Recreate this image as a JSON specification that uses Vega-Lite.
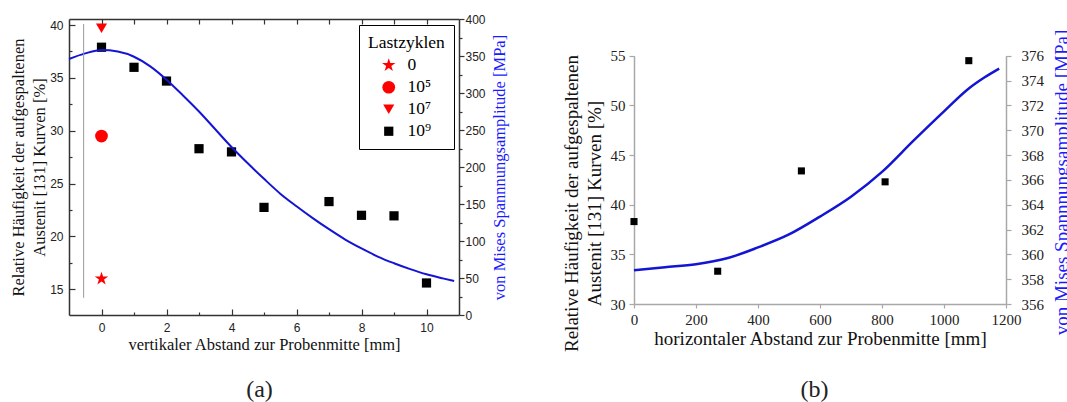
{
  "$schema": "https://vega.github.io/schema/vega-lite/v6.json",
  "background": "white",
  "autosize": {"type": "none"},
  "width": 937,
  "height": 296,
  "padding": {"left": 69, "top": 19, "right": 61, "bottom": 87},
  "config": {
    "view": {"stroke": null},
    "axis": {"grid": false, "labelFlush": false, "labelOverlap": false, "titleFontWeight": "normal"}
  },
  "resolve": {
    "scale": {"x": "independent", "y": "independent"},
    "axis": {"x": "independent", "y": "independent"}
  },
  "layer": [
    {
      "data": {"values": [
        {"abstand": 0, "anteil": 16.0, "zyklen": "0"},
        {"abstand": 0, "anteil": 29.5, "zyklen": "10⁵"},
        {"abstand": 0, "anteil": 39.7, "zyklen": "10⁷"},
        {"abstand": 0, "anteil": 37.9, "zyklen": "10⁹"},
        {"abstand": 1, "anteil": 36.0, "zyklen": "10⁹"},
        {"abstand": 2, "anteil": 34.7, "zyklen": "10⁹"},
        {"abstand": 3, "anteil": 28.3, "zyklen": "10⁹"},
        {"abstand": 4, "anteil": 28.0, "zyklen": "10⁹"},
        {"abstand": 5, "anteil": 22.75, "zyklen": "10⁹"},
        {"abstand": 7, "anteil": 23.3, "zyklen": "10⁹"},
        {"abstand": 8, "anteil": 22.0, "zyklen": "10⁹"},
        {"abstand": 9, "anteil": 21.95, "zyklen": "10⁹"},
        {"abstand": 10, "anteil": 15.6, "zyklen": "10⁹"}
      ]},
      "mark": {"type": "point", "filled": true, "opacity": 1, "strokeWidth": 0},
      "encoding": {
        "x": {
          "field": "abstand", "type": "quantitative",
          "scale": {"domain": [-1, 11], "range": [0, 390], "nice": false, "zero": false},
          "axis": {
            "orient": "bottom", "values": [0, 2, 4, 6, 8, 10], "tickSize": -6, "tickWidth": 1.2,
            "tickColor": "#333", "domainColor": "#333", "domainWidth": 1.5,
            "labelFont": "Liberation Sans", "labelFontSize": 12, "labelColor": "#222", "labelPadding": 13,
            "title": "vertikaler Abstand zur Probenmitte [mm]",
            "titleFont": "Liberation Serif", "titleFontSize": 16.5, "titleColor": "#111", "titlePadding": 3
          }
        },
        "y": {
          "field": "anteil", "type": "quantitative",
          "scale": {"domain": [12.57, 40.57], "range": [296, 0], "nice": false, "zero": false},
          "axis": {
            "orient": "left", "values": [15, 20, 25, 30, 35, 40], "tickSize": -6, "tickWidth": 1.2,
            "tickColor": "#333", "domainColor": "#333", "domainWidth": 1.5,
            "labelFont": "Liberation Sans", "labelFontSize": 12, "labelColor": "#222", "labelPadding": 12,
            "title": ["Relative Häufigkeit der aufgespaltenen", "Austenit [131] Kurven  [%]"],
            "titleFont": "Liberation Serif", "titleFontSize": 16.5, "titleColor": "#111",
            "titleLineHeight": 21.5, "titlePadding": 2
          }
        },
        "color": {
          "field": "zyklen", "type": "nominal",
          "scale": {"domain": ["0", "10⁵", "10⁷", "10⁹"], "range": ["#ff0000", "#ff0000", "#ff0000", "#000000"]},
          "legend": {
            "title": "Lastzyklen", "orient": "none", "legendX": 290, "legendY": 6,
            "strokeColor": "#000", "padding": 9, "fillColor": "white",
            "titleFont": "Liberation Serif", "titleFontSize": 17.5, "titleFontWeight": "normal", "titleColor": "#000",
            "labelFont": "Liberation Serif", "labelFontSize": 17.5, "labelColor": "#000",
            "rowPadding": 3, "titlePadding": 5, "symbolOffset": 12, "labelOffset": 10
          }
        },
        "shape": {
          "field": "zyklen", "type": "nominal",
          "scale": {
            "domain": ["0", "10⁵", "10⁷", "10⁹"],
            "range": [
              "M0,-1L0.2245,-0.309L0.951,-0.309L0.363,0.118L0.588,0.809L0,0.382L-0.588,0.809L-0.363,0.118L-0.951,-0.309L-0.2245,-0.309Z",
              "circle", "triangle-down", "square"
            ]
          }
        },
        "size": {
          "field": "zyklen", "type": "nominal",
          "scale": {"domain": ["0", "10⁵", "10⁷", "10⁹"], "range": [200, 85, 100, 45]}
        }
      }
    },
    {
      "data": {"values": [
        {"abstand": -1, "mpa": 346},
        {"abstand": -0.5, "mpa": 353.5},
        {"abstand": 0, "mpa": 358},
        {"abstand": 0.5, "mpa": 356},
        {"abstand": 1, "mpa": 349},
        {"abstand": 1.5, "mpa": 336},
        {"abstand": 2, "mpa": 318},
        {"abstand": 2.5, "mpa": 297},
        {"abstand": 3, "mpa": 275},
        {"abstand": 3.5, "mpa": 251},
        {"abstand": 4, "mpa": 227},
        {"abstand": 4.5, "mpa": 205},
        {"abstand": 5, "mpa": 184},
        {"abstand": 5.5, "mpa": 164},
        {"abstand": 6, "mpa": 147},
        {"abstand": 6.5, "mpa": 131},
        {"abstand": 7, "mpa": 116},
        {"abstand": 7.5, "mpa": 102},
        {"abstand": 8, "mpa": 90},
        {"abstand": 8.5, "mpa": 79},
        {"abstand": 9, "mpa": 70},
        {"abstand": 9.5, "mpa": 62},
        {"abstand": 10, "mpa": 55},
        {"abstand": 10.5, "mpa": 49.5},
        {"abstand": 10.85, "mpa": 46}
      ]},
      "mark": {"type": "line", "color": "#1414d4", "strokeWidth": 2, "interpolate": "monotone"},
      "encoding": {
        "x": {
          "field": "abstand", "type": "quantitative",
          "scale": {"domain": [-1, 11], "range": [0, 390], "nice": false, "zero": false},
          "axis": {
            "orient": "top", "values": [0, 1, 2, 3, 4, 5, 6, 7, 8, 9, 10], "labels": false, "title": null,
            "tickSize": -5, "tickWidth": 1.2, "tickColor": "#333", "domainColor": "#333", "domainWidth": 1.5
          }
        },
        "y": {
          "field": "mpa", "type": "quantitative",
          "scale": {"domain": [0, 400], "range": [296, 0], "nice": false, "zero": false},
          "axis": {
            "orient": "right", "offset": -547, "values": [0, 50, 100, 150, 200, 250, 300, 350, 400],
            "tickSize": 5, "tickWidth": 1.2, "tickColor": "#333", "domainColor": "#333", "domainWidth": 1.5,
            "labelFont": "Liberation Sans", "labelFontSize": 12, "labelColor": "#222", "labelPadding": 1,
            "title": "von Mises Spannnungsamplitude [MPa]", "titleAngle": 270, "titleBaseline": "top",
            "titleFont": "Liberation Serif", "titleFontSize": 16.5, "titleColor": "#1a1aff", "titlePadding": 6
          }
        }
      }
    },
    {
      "data": {"values": [{"abstand": -0.55, "anteil": 14.2, "anteil_ende": 40.1}]},
      "mark": {"type": "rule", "color": "#9a9a9a", "strokeWidth": 1},
      "encoding": {
        "x": {
          "field": "abstand", "type": "quantitative",
          "scale": {"domain": [-1, 11], "range": [0, 390], "nice": false, "zero": false},
          "axis": {
            "orient": "bottom", "values": [0, 2, 4, 6, 8, 10], "domain": false, "ticks": false, "labels": false,
            "title": "(a)", "titleX": 190, "titleY": 74, "titleBaseline": "middle",
            "titleFont": "Liberation Serif", "titleFontSize": 24, "titleColor": "#222"
          }
        },
        "y": {
          "field": "anteil", "type": "quantitative",
          "scale": {"domain": [12.57, 40.57], "range": [296, 0], "nice": false, "zero": false},
          "axis": {
            "orient": "left", "values": [17.5, 22.5, 27.5, 32.5, 37.5], "labels": false, "domain": false, "title": null,
            "tickSize": -3, "tickWidth": 1.2, "tickColor": "#333"
          }
        },
        "y2": {"field": "anteil_ende"}
      }
    },
    {
      "data": {"values": [
        {"abstand": 1, "mpa": 25},
        {"abstand": 9, "mpa": 375}
      ]},
      "mark": {"type": "point", "opacity": 0},
      "encoding": {
        "x": {
          "field": "abstand", "type": "quantitative",
          "scale": {"domain": [-1, 11], "range": [0, 390], "nice": false, "zero": false},
          "axis": {"orient": "bottom", "values": [1, 3, 5, 7, 9], "labels": false, "domain": false, "title": null, "tickSize": -3, "tickWidth": 1.2, "tickColor": "#333"}
        },
        "y": {
          "field": "mpa", "type": "quantitative",
          "scale": {"domain": [0, 400], "range": [296, 0], "nice": false, "zero": false},
          "axis": {"orient": "right", "offset": -547, "values": [25, 75, 125, 175, 225, 275, 325, 375], "labels": false, "domain": false, "title": null, "tickSize": 3, "tickWidth": 1.2, "tickColor": "#333"}
        }
      }
    },
    {
      "data": {"values": [
        {"abstand": 0, "anteil": 38.3},
        {"abstand": 270, "anteil": 33.3},
        {"abstand": 540, "anteil": 43.4},
        {"abstand": 810, "anteil": 42.3},
        {"abstand": 1080, "anteil": 54.5}
      ]},
      "mark": {"type": "square", "color": "#000", "size": 50, "opacity": 1},
      "encoding": {
        "x": {
          "field": "abstand", "type": "quantitative",
          "scale": {"domain": [0, 1200], "range": [565, 937], "nice": false, "zero": false},
          "axis": {
            "orient": "bottom", "offset": -11, "values": [0, 200, 400, 600, 800, 1000, 1200], "format": "d",
            "tickSize": 4, "tickWidth": 1.2,
            "tickColor": "#a8a8a8", "domainColor": "#a8a8a8", "domainWidth": 1.5,
            "labelFont": "Liberation Serif", "labelFontSize": 15, "labelColor": "#222", "labelPadding": 4,
            "title": "horizontaler Abstand zur Probenmitte [mm]",
            "titleFont": "Liberation Serif", "titleFontSize": 19, "titleColor": "#111", "titlePadding": 2
          }
        },
        "y": {
          "field": "anteil", "type": "quantitative",
          "scale": {"domain": [30, 55], "range": [285, 36.7], "nice": false, "zero": false},
          "axis": {
            "orient": "left", "offset": -565, "values": [30, 35, 40, 45, 50, 55], "tickSize": 5, "tickWidth": 1.2,
            "tickColor": "#a8a8a8", "domainColor": "#a8a8a8", "domainWidth": 1.5,
            "labelFont": "Liberation Serif", "labelFontSize": 15, "labelColor": "#222", "labelPadding": 4,
            "title": ["Relative Häufigkeit der aufgespaltenen", "Austenit [131] Kurven  [%]"],
            "titleFont": "Liberation Serif", "titleFontSize": 19, "titleColor": "#111",
            "titleLineHeight": 23, "titlePadding": 6, "titleY": 184
          }
        }
      }
    },
    {
      "data": {"values": [
        {"abstand": 0, "mpa": 358.72},
        {"abstand": 100, "mpa": 358.96},
        {"abstand": 200, "mpa": 359.2},
        {"abstand": 300, "mpa": 359.68},
        {"abstand": 400, "mpa": 360.56},
        {"abstand": 500, "mpa": 361.6},
        {"abstand": 600, "mpa": 363.04},
        {"abstand": 700, "mpa": 364.64},
        {"abstand": 800, "mpa": 366.64},
        {"abstand": 900, "mpa": 369.12},
        {"abstand": 1000, "mpa": 371.52},
        {"abstand": 1080, "mpa": 373.36},
        {"abstand": 1130, "mpa": 374.24},
        {"abstand": 1178, "mpa": 374.96}
      ]},
      "mark": {"type": "line", "color": "#1414d4", "strokeWidth": 2.5, "interpolate": "monotone"},
      "encoding": {
        "x": {
          "field": "abstand", "type": "quantitative",
          "scale": {"domain": [0, 1200], "range": [565, 937], "nice": false, "zero": false},
          "axis": {
            "orient": "bottom", "values": [0, 600, 1200], "domain": false, "ticks": false, "labels": false,
            "title": "(b)", "titleX": 745, "titleY": 74, "titleBaseline": "middle",
            "titleFont": "Liberation Serif", "titleFontSize": 24, "titleColor": "#222"
          }
        },
        "y": {
          "field": "mpa", "type": "quantitative",
          "scale": {"domain": [356, 376], "range": [285, 36.7], "nice": false, "zero": false},
          "axis": {
            "orient": "right", "values": [356, 358, 360, 362, 364, 366, 368, 370, 372, 374, 376],
            "tickSize": 5, "tickWidth": 1.2, "tickColor": "#a8a8a8", "domainColor": "#a8a8a8", "domainWidth": 1.5,
            "labelFont": "Liberation Serif", "labelFontSize": 15, "labelColor": "#222", "labelPadding": 10,
            "title": "von Mises Spannnungsamplitude [MPa]", "titleAngle": 270, "titleBaseline": "top", "titleY": 163,
            "titleFont": "Liberation Serif", "titleFontSize": 19, "titleColor": "#1a1aff", "titlePadding": 9
          }
        }
      }
    }
  ]
}
